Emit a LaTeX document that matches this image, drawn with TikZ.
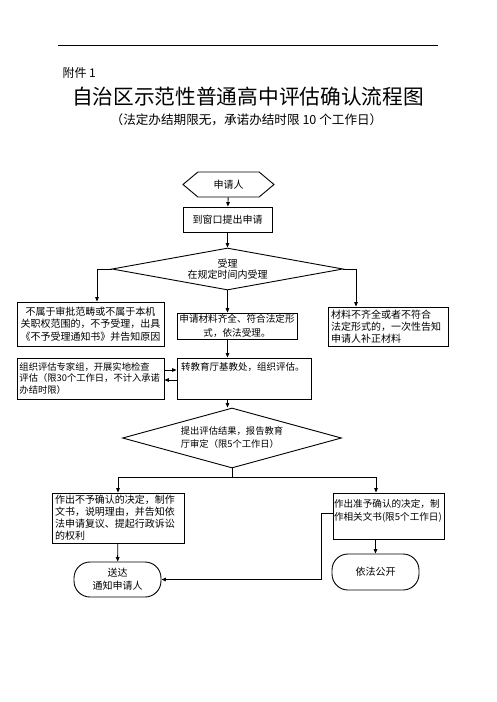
\documentclass[tikz,border=0pt]{standalone}
\usepackage{fontspec}
\setmainfont{Noto Sans CJK SC}
\usetikzlibrary{shapes.geometric,shapes.symbols,arrows.meta}

\begin{document}
\begin{tikzpicture}[x=1pt,y=1pt]

\tikzset{box/.style={draw, line width=0.9, inner sep=1pt, font=\fontsize{10}{12.5}\selectfont},
decide/.style={draw, diamond, line width=0.9, inner sep=0pt, font=\fontsize{9.6}{11.5}\selectfont},
endbox/.style={draw, line width=0.9, rounded corners=16pt, align=center, font=\fontsize{10}{13}\selectfont},
%small filled tips as in the scan
arr/.style={line width=0.9, -{Triangle[length=4.5pt,width=3.6pt]}}}

\useasboundingbox (0,0) rectangle (496,-702);

\draw [line width=0.9] (58,-45) -- (438,-45);

\node (att) [anchor=west, font=\fontsize{12}{14}\selectfont] at (59,-73) {附件 1};
\node (title) [font=\fontsize{20.7}{24}\selectfont] at (248,-97) {自治区示范性普通高中评估确认流程图};
\node (limit) [font=\fontsize{12.6}{15}\selectfont] at (246.5,-120) {（法定办结期限无，承诺办结时限 10 个工作日）};

\node (app) [draw, signal, signal to=east and west, signal pointer angle=80, line width=0.9, minimum width=91pt, minimum height=25pt, inner sep=0pt, font=\fontsize{10}{12}\selectfont] at (228.5,-184.5) {申请人};
\node (window) [box, minimum width=89pt, minimum height=25pt] at (227.5,-219.5) {到窗口提出申请};
\node (check) [decide, aspect=5.5, minimum width=231pt, minimum height=42pt, align=center, font=\fontsize{10}{11}\selectfont] at (227.5,-269) {受理\\在规定时间内受理};

\node (reject) [box, minimum width=147pt, minimum height=44pt, align=center] at (90.5,-324) {不属于审批范畴或不属于本机\\关职权范围的，不予受理，出具\\《不予受理通知书》并告知原因};
\node (accept) [box, minimum width=120pt, minimum height=26pt, align=center, font=\fontsize{9.6}{14}\selectfont] at (237,-326) {申请材料齐全、符合法定形\\式，依法受理。};
\node (supply) [box, minimum width=120pt, minimum height=39pt, align=left, text width=114pt, font=\fontsize{10}{12}\selectfont] at (388,-326.5) {材料不齐全或者不符合\\法定形式的，一次性告知\\申请人补正材料};

\node (expert) [box, minimum width=147pt, minimum height=41pt, align=left, text width=142pt, font=\fontsize{9.3}{11.8}\selectfont] at (90.5,-378.5) {组织评估专家组，开展实地检查\\评估（限30个工作日，不计入承诺\\办结时限）};
\node (transfer) [box, minimum width=134pt, minimum height=41pt, align=left, text width=126pt, font=\fontsize{9.5}{12.5}\selectfont] at (244,-378.5) {转教育厅基教处，组织评估。\\ \mbox{}\\ \mbox{}};

\node (review) [decide, aspect=3.65, minimum width=219pt, minimum height=60pt, align=left, font=\fontsize{9.3}{13}\selectfont] at (232,-438) {提出评估结果，报告教育\\厅审定（限5个工作日）};

\node (deny) [box, minimum width=132pt, minimum height=50pt, align=left, text width=126pt, font=\fontsize{10}{12}\selectfont] at (118,-518) {作出不予确认的决定，制作\\文书，说明理由，并告知依\\法申请复议、提起行政诉讼\\的权利};
\node (approve) [box, minimum width=111pt, minimum height=46pt, align=left, text width=109pt, font=\fontsize{9.6}{13}\selectfont] at (388.5,-516) {作出准予确认的决定，制\\作相关文书(限5个工作日)\\ \mbox{}};

\node (notify) [endbox, minimum width=87pt, minimum height=35pt] at (117.5,-579.5) {送达\\通知申请人};
\node (publish) [endbox, minimum width=87pt, minimum height=36pt] at (375.5,-572) {依法公开};

\draw [arr] (app) -- (window);
\draw [arr] (window) -- (check);
\draw [arr] (check.west) -| ([xshift=6.5pt]reject.north);
\draw [arr] (check.south) -- (check.south |- accept.north);
\draw [arr] (check.east) -| ([xshift=-32pt]supply.north);
\draw [arr] (accept.south -| check.south) -- (transfer.north -| check.south);
\draw [arr] ([yshift=8.5pt]expert.east) -- ([yshift=8.5pt]transfer.west);
\draw [arr] ([yshift=-1.5pt]transfer.west) -- ([yshift=-1.5pt]expert.east);
\draw [arr] (transfer.south -| check.south) -- (review.north -| check.south);
\draw [line width=0.9] (review.south) -- ++(0,-9) coordinate (split);
\draw [arr] (split) -| (deny.north);
\draw [arr] (split) -| ([xshift=-12.5pt]approve.north);
\draw [arr] (deny) -- (notify);
\draw [arr] (publish.north |- approve.south) -- (publish.north);
\draw [arr] ([yshift=3pt]approve.west) -- ++(-11,0) |- (notify.east);

\end{tikzpicture}
\end{document}
